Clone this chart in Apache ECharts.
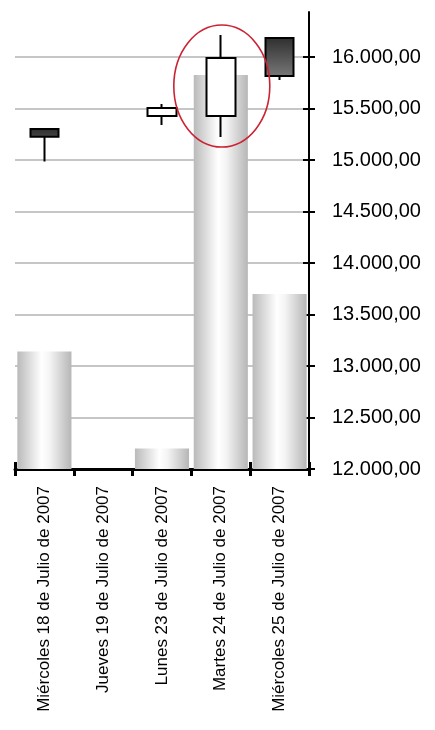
<!DOCTYPE html>
<html>
<head>
<meta charset="utf-8">
<script src="https://cdn.jsdelivr.net/npm/echarts@6/dist/echarts.min.js"></script>
<style>
html,body{margin:0;padding:0;background:#fff;}
#chart{width:435px;height:730px;}
</style>
</head>
<body>
<div id="chart"></div>
<script>
const categories = ['Miércoles 18 de Julio de 2007','Jueves 19 de Julio de 2007','Lunes 23 de Julio de 2007','Martes 24 de Julio de 2007','Miércoles 25 de Julio de 2007'];
const openValues  = [15300, null, 15427, 15427, 16184];
const closeValues = [15225, null, 15505, 15990, 15816];
const lowValues   = [14985, null, 15340, 15223, 15777];
const highValues  = [15300, null, 15544, 16214, 16184];
const barValues   = [13140, null, 12200, 15825, 13700];
const yTicks = [12000, 12500, 13000, 13500, 14000, 14500, 15000, 15500, 16000];
const highlightIndex = 3;
const highlightValue = 15718;

function fmt(v){
  const s = Math.round(v).toString().replace(/\B(?=(\d{3})+(?!\d))/g, '.');
  return s + ',00';
}

const candleData = categories.map((c,i) => openValues[i] == null ? ['-','-','-','-'] :
  [openValues[i], closeValues[i], lowValues[i], highValues[i]]);
const barData = barValues.map(v => v == null ? '-' : v);

const chart = echarts.init(document.getElementById('chart'), null, {renderer:'canvas'});
const font = 'Liberation Sans, Arial, sans-serif';
const yCommon = {
  type:'value', position:'right', min:12000, max:16437, scale:true
};
chart.setOption({
  backgroundColor:'#ffffff',
  animation:false,
  grid:{left:15, right:126, top:12, bottom:261, containLabel:false},
  xAxis:[{
    type:'category', data:categories, position:'bottom',
    axisLine:{show:true, lineStyle:{color:'#000', width:3}},
    axisTick:{show:true, length:7, lineStyle:{color:'#000', width:3}},
    axisLabel:{rotate:90, margin:17, fontSize:17, color:'#000', fontFamily:font},
    splitLine:{show:false}
  },{
    type:'category', data:categories, position:'bottom', gridIndex:0,
    axisLine:{show:false},
    axisTick:{show:true, inside:true, length:7, lineStyle:{color:'#000', width:3}},
    axisLabel:{show:false}, splitLine:{show:false}
  }],
  yAxis:[Object.assign({}, yCommon, {
    axisLine:{show:true, lineStyle:{color:'#000', width:2}},
    axisTick:{show:true, length:6, customValues:yTicks, lineStyle:{color:'#000', width:2}},
    axisLabel:{customValues:yTicks, margin:23, fontSize:20, color:'#000', fontFamily:font, formatter:fmt},
    splitLine:{show:true, lineStyle:{color:'#c6c6c6', width:2}}
  }), Object.assign({}, yCommon, {
    axisLine:{show:false},
    axisTick:{show:true, inside:true, length:6, customValues:yTicks, lineStyle:{color:'#000', width:2}},
    axisLabel:{show:false}, splitLine:{show:false}
  })],
  series:[{
    type:'bar', data:barData, xAxisIndex:0, yAxisIndex:0,
    barWidth:'92%', clip:true, z:1,
    itemStyle:{color:new echarts.graphic.LinearGradient(0,0,1,0,[
      {offset:0,color:'#bababa'},{offset:0.45,color:'#ffffff'},{offset:0.6,color:'#f4f4f4'},{offset:1,color:'#b6b6b6'}])}
  },{
    type:'candlestick', data:candleData, xAxisIndex:0, yAxisIndex:0,
    barWidth:29, z:3,
    itemStyle:{
      color:'#ffffff',
      color0:new echarts.graphic.LinearGradient(0,0,0,1,[{offset:0,color:'#2e2e2e'},{offset:1,color:'#808080'}]),
      borderColor:'#000', borderColor0:'#000', borderWidth:2
    }
  }]
});

const c = chart.convertToPixel({xAxisIndex:0, yAxisIndex:0}, [highlightIndex, highlightValue]);
chart.setOption({
  graphic:[{
    type:'ellipse', shape:{cx:c[0]+1, cy:c[1], rx:48, ry:61}, z:10,
    style:{fill:null, stroke:'#cc2233', lineWidth:1.6}
  }]
});
</script>
</body>
</html>
